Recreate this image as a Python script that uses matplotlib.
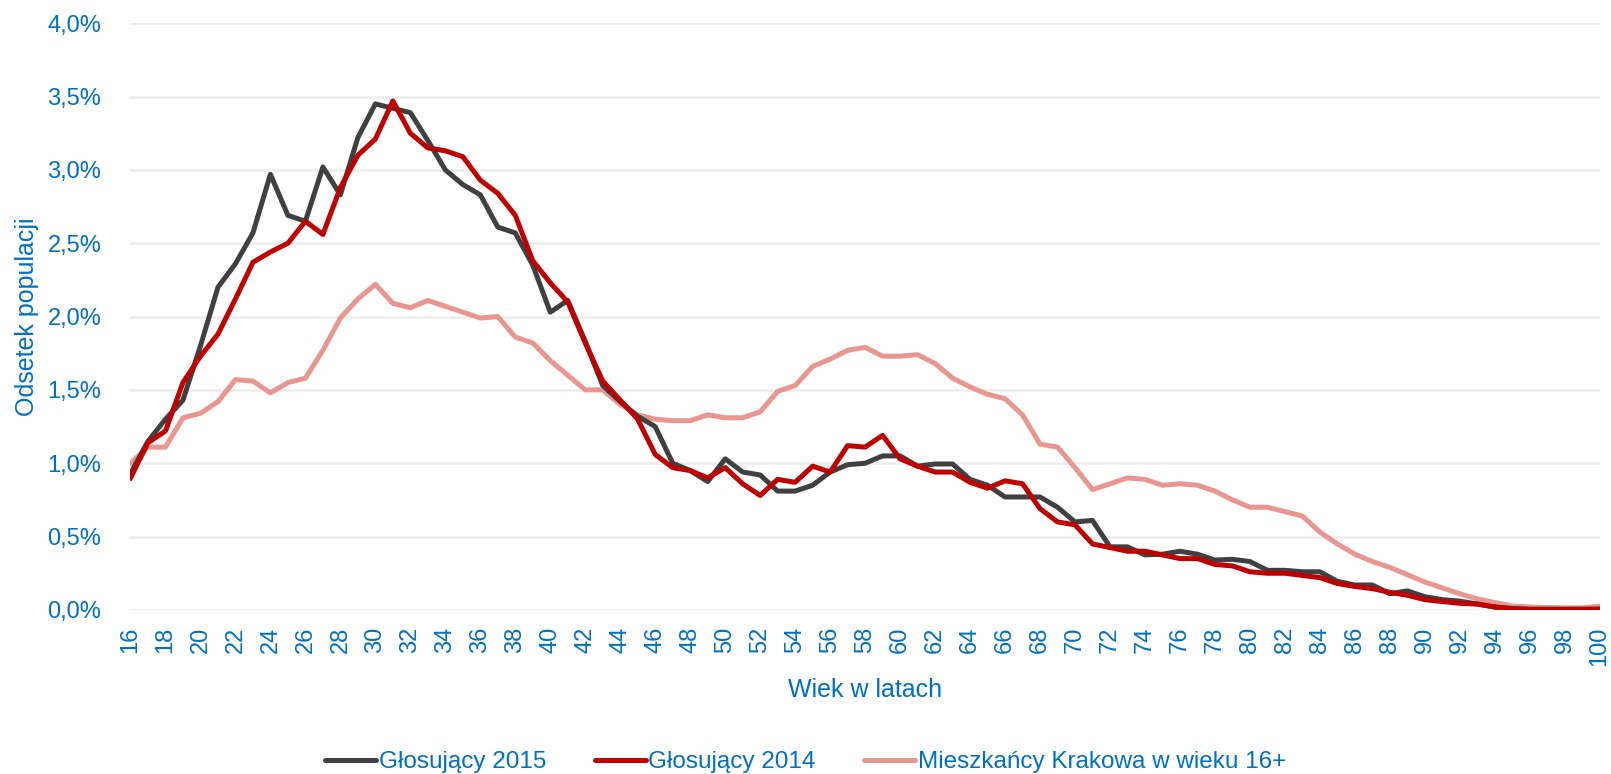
import matplotlib.pyplot as plt
from matplotlib.ticker import FuncFormatter

plt.rcParams['font.family'] = ['Liberation Sans', 'DejaVu Sans']

ages = list(range(16, 101))

glos_2015 = [0.93, 1.15, 1.30, 1.43, 1.80, 2.20, 2.36, 2.57, 2.97, 2.69,
             2.65, 3.02, 2.83, 3.22, 3.45, 3.42, 3.39, 3.20, 3.00, 2.90,
             2.83, 2.61, 2.57, 2.35, 2.03, 2.11, 1.83, 1.53, 1.42, 1.32,
             1.25, 1.00, 0.95, 0.875, 1.03, 0.94, 0.92, 0.81, 0.81, 0.85,
             0.94, 0.99, 1.00, 1.05, 1.05, 0.98, 0.995, 0.995, 0.89, 0.85,
             0.77, 0.77, 0.77, 0.70, 0.60, 0.61, 0.43, 0.43, 0.375, 0.38,
             0.40, 0.38, 0.34, 0.345, 0.33, 0.27, 0.27, 0.26, 0.26, 0.195,
             0.17, 0.17, 0.11, 0.13, 0.09, 0.07, 0.06, 0.04, 0.02, 0.01,
             0.005, 0.005, 0.005, 0.005, 0.005]

glos_2014 = [0.90, 1.14, 1.22, 1.55, 1.73, 1.88, 2.12, 2.37, 2.44, 2.50,
             2.65, 2.56, 2.88, 3.10, 3.21, 3.47, 3.25, 3.15, 3.13, 3.09,
             2.93, 2.84, 2.69, 2.38, 2.23, 2.10, 1.82, 1.56, 1.43, 1.30,
             1.06, 0.97, 0.95, 0.90, 0.97, 0.86, 0.78, 0.89, 0.87, 0.98,
             0.94, 1.12, 1.11, 1.19, 1.03, 0.98, 0.94, 0.94, 0.87, 0.83,
             0.88, 0.86, 0.69, 0.60, 0.58, 0.45, 0.425, 0.40, 0.40, 0.375,
             0.35, 0.35, 0.31, 0.30, 0.26, 0.25, 0.25, 0.235, 0.22, 0.18,
             0.16, 0.145, 0.12, 0.10, 0.07, 0.057, 0.045, 0.04, 0.02, 0.007,
             0.003, 0.003, 0.003, 0.003, 0.005]

mieszkancy = [1.00, 1.11, 1.11, 1.31, 1.34, 1.42, 1.57, 1.56, 1.48, 1.55,
              1.58, 1.77, 1.99, 2.12, 2.22, 2.09, 2.06, 2.11, 2.07, 2.03,
              1.99, 2.00, 1.86, 1.82, 1.70, 1.60, 1.50, 1.50, 1.40, 1.33,
              1.30, 1.29, 1.29, 1.33, 1.31, 1.31, 1.35, 1.49, 1.53, 1.66,
              1.71, 1.77, 1.79, 1.73, 1.73, 1.74, 1.68, 1.58, 1.52, 1.47,
              1.44, 1.33, 1.13, 1.11, 0.97, 0.82, 0.86, 0.90, 0.89, 0.85,
              0.86, 0.85, 0.81, 0.75, 0.70, 0.70, 0.67, 0.64, 0.53, 0.45,
              0.38, 0.33, 0.29, 0.24, 0.19, 0.15, 0.11, 0.075, 0.05, 0.027,
              0.02, 0.016, 0.014, 0.014, 0.025]

blue = "#0070C0"

fig = plt.figure(figsize=(16.11, 7.74), dpi=100)
ax = fig.add_axes([0.081, 0.212, 0.912, 0.758])

ax.plot(ages, glos_2015, color="#404040", lw=3.6, zorder=3, label="Głosujący 2015")
ax.plot(ages, glos_2014, color="#C00000", lw=3.6, zorder=4, label="Głosujący 2014")
ax.plot(ages, mieszkancy, color="#E8968F", lw=3.6, zorder=2, label="Mieszkańcy Krakowa w wieku 16+")

ax.set_xlim(16, 100)
ax.set_ylim(0, 4.0)
ax.set_yticks([i * 0.5 for i in range(9)])
ax.yaxis.set_major_formatter(FuncFormatter(lambda v, p: f"{v:.1f}%".replace(".", ",")))
ax.set_xticks(list(range(16, 101, 2)))
ax.tick_params(axis="x", labelrotation=90, length=0, pad=12, labelsize=17, labelcolor=blue)
ax.tick_params(axis="y", length=0, pad=21, labelsize=17, labelcolor=blue)
ax.grid(axis="y", color="#EDEDED", lw=1.8, zorder=0)
for s in ax.spines.values():
    s.set_visible(False)

ax.set_xlabel("Wiek w latach", fontsize=18, color=blue, labelpad=9)
ax.set_ylabel("Odsetek populacji", fontsize=18, color=blue, labelpad=6)

leg = fig.legend(loc="lower center", bbox_to_anchor=(0.5, -0.027), ncol=3, frameon=False,
                 fontsize=17.5, labelcolor=blue, handlelength=2.1, handletextpad=0.1,
                 columnspacing=2.0)
for h in leg.get_lines():
    h.set_solid_capstyle("round")

fig.savefig("out.png", dpi=100)
